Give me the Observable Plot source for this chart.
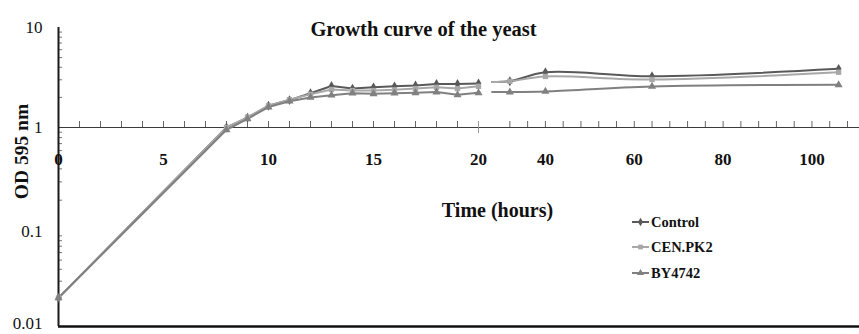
<!DOCTYPE html>
<html><head><meta charset="utf-8">
<script src="https://cdn.jsdelivr.net/npm/d3@7"></script>
<script src="https://cdn.jsdelivr.net/npm/@observablehq/plot@0.6"></script>
<style>
body{margin:0;background:#fff;}
#wrap{position:relative;width:859px;height:334px;font-family:"Liberation Serif","Times New Roman",serif;}
.lg{position:absolute;left:632px;height:16px;font-weight:bold;font-size:14.5px;display:flex;align-items:center;color:#111;}
.lg svg{margin-right:1px;}
</style></head><body><div id="wrap"></div>
<script>
// ---- data ----
const series = ["Control", "CEN.PK2", "BY4742"];
const seriesColors = ["#595959", "#a8a8a8", "#808080"];
const seriesSymbols = ["diamond", "square", "triangle"];

const timesEarly = [0, 8, 9, 10, 11, 12, 13, 14, 15, 16, 17, 18, 19, 20];
const controlEarly = [0.02, 1.0, 1.25, 1.65, 1.88, 2.2, 2.6, 2.45, 2.52, 2.58, 2.63, 2.72, 2.72, 2.75];
const cenEarly     = [0.02, 1.0, 1.27, 1.65, 1.9, 2.15, 2.4, 2.34, 2.34, 2.38, 2.45, 2.52, 2.45, 2.58];
const byEarly      = [0.02, 0.95, 1.22, 1.6, 1.83, 2.0, 2.1, 2.2, 2.17, 2.2, 2.22, 2.26, 2.12, 2.22];

const timesLate = [28, 32, 40, 64, 106];
const controlLate = [2.85, 2.9, 3.57, 3.26, 3.86];
const cenLate     = [2.85, 2.9, 3.24, 3.02, 3.57];
const byLate      = [2.26, 2.26, 2.29, 2.57, 2.67];

const xTickLabels = [0, 5, 10, 15, 20, 40, 60, 80, 100];
const xTicksEarly = d3.range(0, 21, 1);
const xTicksLate = d3.range(32, 109, 4);
const yTickLabels = [0.01, 0.1, 1, 10];
const yMinorTicks = [0.01, 0.1, 1].flatMap(d => d3.range(2, 10).map(k => +(k * d).toPrecision(3)));

// broken x axis: 0–20 then 28–110.7
const xDomain = [0, 20, 28, 110.7];
const xRange = [58, 478, 491.6, 859];
const yDomain = [0.01, 0.1, 1, 10];
const yRange = [326, 231, 127, 27];

// ---- table ----
const early = [controlEarly, cenEarly, byEarly];
const late = [controlLate, cenLate, byLate];
const rows = [];
series.forEach((s, i) => {
  timesEarly.forEach((t, j) => rows.push({series: s, seg: "early", t, od: early[i][j], marker: true}));
  timesLate.forEach((t, j) => rows.push({series: s, seg: "late", t, od: late[i][j], marker: j > 0}));
});

const xMax = xDomain[xDomain.length - 1];
const serif = "Liberation Serif, Times New Roman, serif";

const plot = Plot.plot({
  width: 859, height: 334, margin: 0,
  style: {fontFamily: serif, background: "white", overflow: "visible", color: "#111"},
  x: {type: "linear", domain: xDomain, range: xRange, axis: null},
  y: {type: "log", domain: yDomain, range: yRange, axis: null},
  color: {domain: series, range: seriesColors},
  symbol: {domain: series, range: seriesSymbols},
  marks: [
    // horizontal axis line at OD = 1
    Plot.ruleY([1], {x1: 0, x2: xMax, stroke: "#3a3a3a", strokeWidth: 1}),
    Plot.ruleX(xTicksEarly.concat(xTicksLate), {y1: 1, y2: 1, insetTop: -6, stroke: "#666", strokeWidth: 1}),
    Plot.ruleX([20], {y1: 1, y2: 1, insetTop: -6, insetBottom: -6, stroke: "#999", strokeWidth: 1}),
    // bottom line
    Plot.ruleY([0.01], {x1: 0, x2: xMax, stroke: "#111", strokeWidth: 2.5}),
    // y minor ticks
    Plot.ruleY(yMinorTicks, {x1: 0, x2: 0, insetRight: -4, stroke: "#777", strokeWidth: 1}),
    // y axis line
    Plot.ruleX([0], {y1: 0.01, y2: 10, stroke: "#1a1a1a", strokeWidth: 2}),
    // y tick labels
    Plot.text(yTickLabels, {x: 0, y: d => d, text: d => String(d), textAnchor: "end", dx: -16, fontSize: 17, fill: "#111"}),
    // data lines
    Plot.line(rows.filter(d => d.seg === "early"), {x: "t", y: "od", z: "series", stroke: "series", strokeWidth: 2}),
    Plot.line(rows.filter(d => d.seg === "late"), {x: "t", y: "od", z: "series", stroke: "series", strokeWidth: 2, curve: "catmull-rom"}),
    Plot.dot(rows.filter(d => d.marker), {x: "t", y: "od", symbol: "series", fill: "series", r: 3}),
    // x tick labels
    Plot.text(xTickLabels, {x: d => d, y: 1, dy: 32, text: d => String(d), fontSize: 17, fontWeight: "bold", fill: "#111"}),
    // titles
    Plot.text(["Growth curve of the yeast"], {frameAnchor: "top-left", dx: 423, dy: 21, textAnchor: "middle", fontSize: 20.5, fontWeight: "bold", fill: "#111"}),
    Plot.text(["OD 595 nm"], {frameAnchor: "top-left", dx: 14, dy: 151, textAnchor: "middle", rotate: -90, fontSize: 19.5, fontWeight: "bold", fill: "#111"}),
    Plot.text(["Time (hours)"], {frameAnchor: "top-left", dx: 497, dy: 202, textAnchor: "middle", fontSize: 20, fontWeight: "bold", fill: "#111"})
  ]
});

const wrap = document.getElementById("wrap");
wrap.appendChild(plot);

// keep the bottom "0.01" label inside the picture
plot.querySelectorAll("text").forEach(t => { if (t.textContent === "0.01") t.setAttribute("dy", "-0.15em"); });

// legend
const legendTops = [214, 239, 265];
series.forEach((s, i) => {
  const div = document.createElement("div");
  div.className = "lg";
  div.style.top = legendTops[i] + "px";
  const svg = d3.create("svg").attr("width", 18).attr("height", 10);
  svg.append("line").attr("x1", 0).attr("x2", 17).attr("y1", 5).attr("y2", 5)
    .attr("stroke", seriesColors[i]).attr("stroke-width", 2);
  const sym = {diamond: d3.symbolDiamond, square: d3.symbolSquare, triangle: d3.symbolTriangle}[seriesSymbols[i]];
  svg.append("path").attr("d", d3.symbol(sym, 22)()).attr("transform", "translate(8.5,5)").attr("fill", seriesColors[i]);
  div.appendChild(svg.node());
  const span = document.createElement("span");
  span.textContent = s;
  div.appendChild(span);
  wrap.appendChild(div);
});
</script>
</body></html>
